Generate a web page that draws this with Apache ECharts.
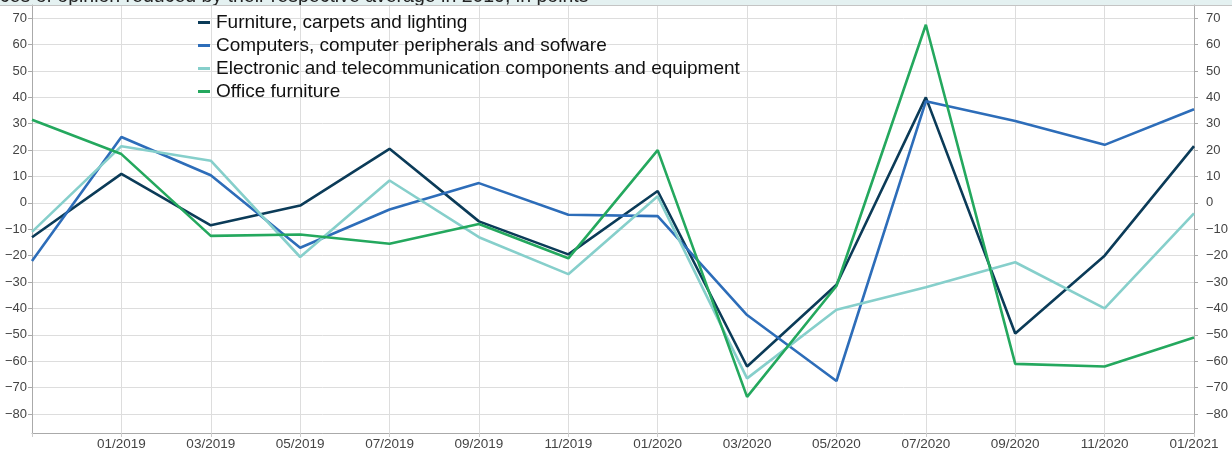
<!DOCTYPE html>
<html>
<head>
<meta charset="utf-8">
<script src="https://cdn.jsdelivr.net/npm/echarts@6/dist/echarts.min.js"></script>
<style>
  html, body { margin: 0; padding: 0; background: #fff; }
  #chart { width: 1232px; height: 452px; }
</style>
</head>
<body>
<div id="chart"></div>
<script>
// Bi-monthly survey periods
const periods = ['11/2018', '01/2019', '03/2019', '05/2019', '07/2019', '09/2019', '11/2019',
                 '01/2020', '03/2020', '05/2020', '07/2020', '09/2020', '11/2020', '01/2021'];

const seriesNames = [
  'Furniture, carpets and lighting',
  'Computers, computer peripherals and sofware',
  'Electronic and telecommunication components and equipment',
  'Office furniture'
];

// Balances of opinion, centred on their 2019 average (points)
const furnitureCarpetsLighting = [-13, 11, -8.5, -1, 20.5, -7, -19.5, 4.5, -62, -31, 40, -49.5, -20, 21.5];
const computersPeripherals     = [-22, 25, 10.5, -17, -2.5, 7.5, -4.5, -5, -42.5, -67.5, 38.5, 31, 22, 35.5];
const electronicTelecom        = [-11, 21.5, 16, -20.5, 8.5, -13, -27, 2.5, -66.5, -40.5, -32, -22.5, -40, -4];
const officeFurniture          = [31.5, 18.5, -12.5, -12, -15.5, -8, -21, 20, -73.5, -31.5, 67.5, -61, -62, -51];

const seriesColors = ['#0b3b58', '#2d6db9', '#86cfcb', '#24a85e'];

const titleText = 'Balances of opinion reduced by their respective average in 2019, in points';

const chart = echarts.init(document.getElementById('chart'), null, { renderer: 'canvas' });

const minus = v => String(v).replace('-', '\u2212');
const FONT = 'Liberation Sans, Arial, sans-serif';

const yAxisBase = {
  type: 'value',
  min: -87.2,
  max: 75,
  minInterval: 10,
  maxInterval: 10,
  splitNumber: 16,
  axisLine: { show: true, lineStyle: { color: '#aaaaaa', width: 1 } },
  axisTick: { show: true, length: 4, lineStyle: { color: '#aaaaaa' } },
  axisLabel: {
    showMinLabel: false,
    showMaxLabel: false,
    color: '#444',
    fontSize: 13,
    fontFamily: FONT,
    formatter: minus
  }
};

const datasets = [furnitureCarpetsLighting, computersPeripherals, electronicTelecom, officeFurniture];

chart.setOption({
  animation: false,
  backgroundColor: '#ffffff',
  color: seriesColors,
  grid: { left: 32, right: 38, top: 5, bottom: 19, containLabel: false },
  legend: {
    orient: 'vertical',
    left: 193,
    top: 8,
    icon: 'rect',
    itemWidth: 12,
    itemHeight: 3,
    itemGap: 4,
    textStyle: { color: '#111', fontSize: 19, fontFamily: FONT, padding: [0, 0, 0, 1] },
    data: seriesNames
  },
  xAxis: {
    type: 'category',
    data: periods,
    boundaryGap: false,
    axisLine: { show: true, onZero: false, lineStyle: { color: '#aaaaaa' } },
    axisTick: { show: true, length: 4, interval: 0, lineStyle: { color: '#cccccc' } },
    splitLine: { show: true, interval: 0, lineStyle: { color: '#dddddd', width: 1 } },
    axisLabel: {
      interval: 0,
      color: '#444',
      fontSize: 13.5,
      fontFamily: FONT,
      margin: 4,
      formatter: (v, i) => (i === 0 ? '' : v)
    }
  },
  yAxis: [
    Object.assign({}, yAxisBase, {
      position: 'left',
      axisLabel: Object.assign({}, yAxisBase.axisLabel, { margin: 5 }),
      splitLine: { show: true, lineStyle: { color: '#dddddd', width: 1 } }
    }),
    Object.assign({}, yAxisBase, {
      position: 'right',
      axisLabel: Object.assign({}, yAxisBase.axisLabel, { margin: 12 }),
      splitLine: { show: false }
    })
  ],
  graphic: [
    {
      type: 'rect',
      left: 0, top: 0, z: -10,
      shape: { x: 0, y: 0, width: 1232, height: 5 },
      style: { fill: '#e4f1f1' }
    },
    {
      type: 'text',
      x: -50, y: 7, z: -5,
      style: {
        text: titleText,
        fill: '#222',
        font: '19.5px Liberation Sans, Arial, sans-serif',
        verticalAlign: 'bottom',
        lineHeight: 20
      }
    },
    {
      // frame line along the top of the plot area
      type: 'line',
      z: 1,
      shape: { x1: 0, y1: 5.5, x2: 1232, y2: 5.5 },
      style: { stroke: '#c4c4c4', lineWidth: 1 }
    }
  ],
  series: datasets.map((d, k) => ({
    name: seriesNames[k],
    type: 'line',
    data: d,
    yAxisIndex: 0,
    showSymbol: false,
    symbol: 'none',
    lineStyle: { width: 2.6, color: seriesColors[k] },
    emphasis: { disabled: true }
  }))
});
</script>
</body>
</html>
